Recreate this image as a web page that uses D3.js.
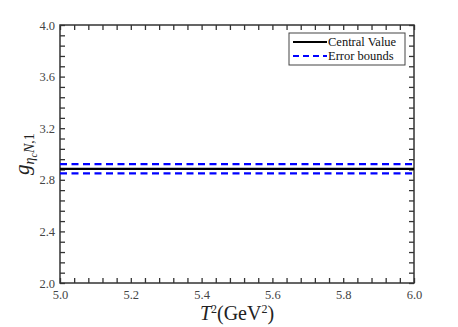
<!DOCTYPE html>
<html>
<head>
<meta charset="utf-8">
<script src="https://cdn.jsdelivr.net/npm/d3@7"></script>
<style>
  body { margin: 0; background: #fff; }
  text { font-family: "Liberation Serif", "DejaVu Serif", serif; }
</style>
</head>
<body>
<div id="chart"></div>
<script>
// x range of the Borel parameter T^2
const xDomain = [5.0, 6.0];
const yDomain = [2.0, 4.0];
const xTicks = [5.0, 5.2, 5.4, 5.6, 5.8, 6.0];
const yTicks = [2.0, 2.4, 2.8, 3.2, 3.6, 4.0];

// series (flat values across T^2)
const tValues = [5.0, 6.0];
const central = [2.885, 2.885];
const upper = [2.922, 2.922];
const lower = [2.850, 2.850];

const legendLabels = ["Central Value", "Error bounds"];

const width = 458, height = 327;
const margin = {top: 25, right: 44, bottom: 44, left: 60};
const innerW = width - margin.left - margin.right;
const innerH = height - margin.top - margin.bottom;

const svg = d3.select("#chart").append("svg")
    .attr("width", width)
    .attr("height", height);

const g = svg.append("g")
    .attr("transform", `translate(${margin.left},${margin.top})`);

const x = d3.scaleLinear().domain(xDomain).range([0, innerW]);
const y = d3.scaleLinear().domain(yDomain).range([innerH, 0]);

const axisColor = "#333";
const labelColor = "#444";

// minor ticks: every 0.04 on x, every 0.08 on y
const xMinor = d3.range(0, 26).map(i => 5.0 + i * 0.04);
const yMinor = d3.range(0, 26).map(i => 2.0 + i * 0.08);

function styleAxis(sel) {
    sel.select(".domain").remove();
    sel.selectAll("line").attr("stroke", axisColor).attr("stroke-width", 1.3);
}

// bottom
g.append("g").attr("transform", `translate(0,${innerH})`)
    .call(d3.axisBottom(x).tickValues(xMinor).tickSize(-5).tickFormat(""))
    .call(styleAxis);
// top
g.append("g")
    .call(d3.axisTop(x).tickValues(xMinor).tickSize(-5).tickFormat(""))
    .call(styleAxis);
// left
g.append("g")
    .call(d3.axisLeft(y).tickValues(yMinor).tickSize(-5).tickFormat(""))
    .call(styleAxis);
// right
g.append("g").attr("transform", `translate(${innerW},0)`)
    .call(d3.axisRight(y).tickValues(yMinor).tickSize(-5).tickFormat(""))
    .call(styleAxis);

// tick labels
g.append("g").attr("transform", `translate(0,${innerH})`)
    .call(d3.axisBottom(x).tickValues(xTicks).tickSize(0).tickPadding(7).tickFormat(d3.format(".1f")))
    .call(sel => {
        sel.select(".domain").remove();
        sel.selectAll("text").attr("fill", labelColor).style("font-size", "12.5px")
            .style("font-family", "Liberation Serif, serif");
    });
g.append("g")
    .call(d3.axisLeft(y).tickValues(yTicks).tickSize(0).tickPadding(5).tickFormat(d3.format(".1f")))
    .call(sel => {
        sel.select(".domain").remove();
        sel.selectAll("text").attr("fill", labelColor).style("font-size", "12.5px")
            .style("font-family", "Liberation Serif, serif");
    });

// frame
g.append("rect")
    .attr("width", innerW).attr("height", innerH)
    .attr("fill", "none").attr("stroke", axisColor).attr("stroke-width", 1.5);

// lines
const line = d3.line().x(d => x(d[0])).y(d => y(d[1]));
const zip = vals => tValues.map((t, i) => [t, vals[i]]);

g.append("path").datum(zip(upper))
    .attr("d", line).attr("fill", "none")
    .attr("stroke", "#0000ff").attr("stroke-width", 2.2).attr("stroke-dasharray", "7,4.5");
g.append("path").datum(zip(lower))
    .attr("d", line).attr("fill", "none")
    .attr("stroke", "#0000ff").attr("stroke-width", 2.2).attr("stroke-dasharray", "7,4.5");
g.append("path").datum(zip(central))
    .attr("d", line).attr("fill", "none")
    .attr("stroke", "#000").attr("stroke-width", 2.2);

// legend
const legend = g.append("g").attr("transform", `translate(${innerW - 125},8)`);
legend.append("rect")
    .attr("width", 116).attr("height", 32)
    .attr("fill", "#fff").attr("stroke", "#444").attr("stroke-width", 1);
legend.append("line")
    .attr("x1", 4).attr("x2", 38).attr("y1", 9).attr("y2", 9)
    .attr("stroke", "#000").attr("stroke-width", 2.2);
legend.append("line")
    .attr("x1", 4).attr("x2", 38).attr("y1", 23).attr("y2", 23)
    .attr("stroke", "#0000ff").attr("stroke-width", 2.2).attr("stroke-dasharray", "6,4");
legend.selectAll("text.lab").data(legendLabels).enter().append("text")
    .attr("class", "lab")
    .attr("x", 39).attr("y", (d, i) => 13 + i * 14)
    .attr("fill", "#111").style("font-size", "12.5px")
    .text(d => d);

// axis titles
const xt = svg.append("text")
    .attr("x", margin.left + innerW / 2).attr("y", 320)
    .attr("text-anchor", "middle").attr("fill", "#222").style("font-size", "20px");
xt.append("tspan").style("font-style", "italic").text("T");
xt.append("tspan").attr("dy", -7).style("font-size", "12px").text("2");
xt.append("tspan").attr("dy", 7).text("(GeV");
xt.append("tspan").attr("dy", -7).style("font-size", "12px").text("2");
xt.append("tspan").attr("dy", 7).text(")");

const yt = svg.append("text")
    .attr("transform", `translate(29,${margin.top + innerH / 2}) rotate(-90)`)
    .attr("text-anchor", "middle").attr("fill", "#222").style("font-size", "21px");
yt.append("tspan").style("font-style", "italic").text("g");
yt.append("tspan").attr("dy", 5).style("font-size", "14px").style("font-style", "italic").text("η");
yt.append("tspan").attr("dy", 3).style("font-size", "10px").style("font-style", "italic").text("c");
yt.append("tspan").attr("dy", -3).style("font-size", "14px").style("font-style", "italic").text("N");
yt.append("tspan").style("font-size", "14px").text(",1");
</script>
</body>
</html>
